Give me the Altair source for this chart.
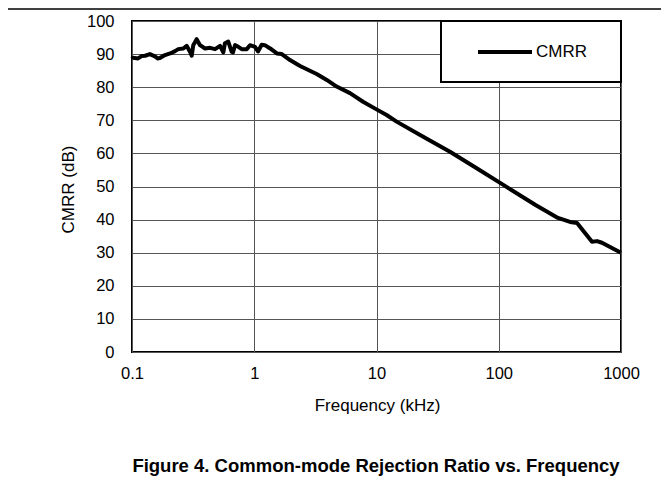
import altair as alt
import pandas as pd

# ---- data ----
freq_khz = [0.100, 0.102, 0.112, 0.120, 0.128, 0.140, 0.154, 0.162, 0.169, 0.186,
            0.205, 0.225, 0.239, 0.263, 0.280, 0.298, 0.308, 0.317, 0.338, 0.360,
            0.396, 0.435, 0.478, 0.525, 0.558, 0.576, 0.613, 0.654, 0.670, 0.696,
            0.741, 0.790, 0.868, 0.923, 1.014, 1.073, 1.150, 1.22, 1.35, 1.53,
            1.68, 1.96, 2.37, 2.77, 3.24, 3.92, 4.72, 6.07, 7.76, 10.0,
            12.1, 14.6, 24.1, 39.9, 66.0, 109.0, 200.0, 305.0, 383.0, 437.0,
            579.0, 637.0, 699.0, 1000.0]
cmrr_db = [88.5, 88.9, 88.7, 89.4, 89.5, 90.0, 89.3, 88.7, 88.8, 89.7,
           90.2, 90.9, 91.5, 91.7, 92.5, 90.7, 89.5, 92.7, 94.5, 92.7,
           91.7, 91.9, 91.5, 92.5, 90.5, 93.3, 93.8, 90.7, 90.5, 92.7,
           92.2, 91.5, 91.5, 92.7, 92.2, 90.8, 92.8, 92.7, 91.7, 90.2,
           90.0, 88.2, 86.4, 85.2, 84.0, 82.2, 80.2, 78.2, 75.6, 73.3,
           71.6, 69.6, 65.0, 60.5, 55.5, 50.5, 44.4, 40.5, 39.3, 39.0,
           33.3, 33.5, 33.0, 30.0]
x_ticks = [0.1, 1, 10, 100, 1000]
y_ticks = [0, 10, 20, 30, 40, 50, 60, 70, 80, 90, 100]
legend_label = ["CMRR"]
caption = ["Figure 4. Common-mode Rejection Ratio vs. Frequency"]
x_title = "Frequency (kHz)"
y_title = "CMRR (dB)"

FONT = "Liberation Sans"
df = pd.DataFrame({"f": freq_khz, "db": cmrr_db})

x_enc = alt.X(
    "f:Q",
    scale=alt.Scale(type="log", domain=[0.1, 1000], nice=False),
    axis=alt.Axis(values=x_ticks, format="~g", title=x_title, grid=True,
                  gridColor="#555555", gridWidth=1, ticks=False, tickSize=0,
                  domain=False, labelPadding=13, labelFlush=False,
                  labelOverlap=False, labelFontSize=16.5, labelColor="black",
                  labelFont=FONT, titleFont=FONT, titleFontSize=17,
                  titleFontWeight="normal", titleColor="black",
                  titleX=245, titleY=53, titleBaseline="middle"),
)
y_enc = alt.Y(
    "db:Q",
    scale=alt.Scale(domain=[0, 100], nice=False),
    axis=alt.Axis(values=y_ticks, format="d", title=y_title, grid=True,
                  gridColor="#555555", gridWidth=1, ticks=False, tickSize=0,
                  domain=False, labelPadding=18, labelFlush=False,
                  labelOverlap=False, labelFontSize=16.5, labelColor="black",
                  labelFont=FONT, titleFont=FONT, titleFontSize=17,
                  titleFontWeight="normal", titleColor="black",
                  titleX=-64, titleY=168, titleBaseline="middle"),
)

line = alt.Chart(df).mark_line(color="black", strokeWidth=4, strokeJoin="round").encode(
    x=x_enc, y=y_enc
)

leg_df = pd.DataFrame({"label": legend_label})
legend_box = alt.Chart(leg_df).mark_rect(fill="white", stroke="black", strokeWidth=2).encode(
    x=alt.value(309), x2=alt.value(489), y=alt.value(0), y2=alt.value(61)
)
legend_line = alt.Chart(leg_df).mark_rule(color="black", strokeWidth=4).encode(
    x=alt.value(346), x2=alt.value(400), y=alt.value(31)
)
legend_text = alt.Chart(leg_df).mark_text(
    align="left", baseline="middle", fontSize=17, font=FONT, color="black"
).encode(x=alt.value(404), y=alt.value(31), text="label:N")

top_rule = alt.Chart(leg_df).mark_rule(color="black", strokeWidth=1.5).encode(
    x=alt.value(-124), x2=alt.value(529), y=alt.value(-12)
)

cap_df = pd.DataFrame({"c": caption})
caption_text = alt.Chart(cap_df).mark_text(
    align="center", baseline="middle", fontSize=18.5, fontWeight="bold",
    font=FONT, color="black"
).encode(x=alt.value(244), y=alt.value(445), text="c:N")

chart = alt.layer(
    line, legend_box, legend_line, legend_text, top_rule, caption_text
).properties(
    width=489, height=331,
    padding={"left": 124, "top": 13, "right": 40, "bottom": 130},
    autosize="none", background="white",
).configure_view(stroke="black", strokeWidth=2)

chart.save("out.html", embed_options={"renderer": "svg", "actions": False})
